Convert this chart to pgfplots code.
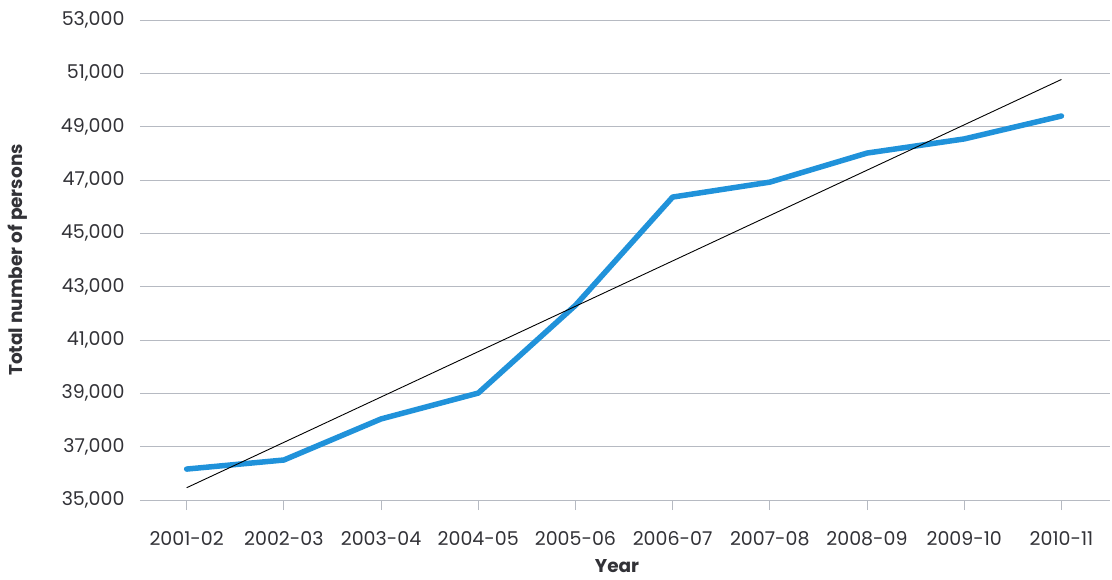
\documentclass[border=0pt]{standalone}
\usepackage{fontspec}
\setmainfont{Poppins}
\usepackage{pgfplots}
\pgfplotsset{compat=1.18}
\definecolor{lineblue}{RGB}{32,146,218}
\definecolor{txt}{RGB}{50,50,55}
\definecolor{gridc}{RGB}{182,186,194}
\begin{document}
\begin{tikzpicture}
\begin{axis}[
  scale only axis,
  width=970pt, height=480pt,
  xmin=-0.48, xmax=9.5,
  ymin=35000, ymax=53000,
  ytick={35000,37000,...,53000},
  xtick={0,...,9},
  xticklabels={2001-02,2002-03,2003-04,2004-05,2005-06,2006-07,2007-08,2008-09,2009-10,2010-11},
  axis line style={draw=none},
  ymajorgrids,
  grid style={gridc, line width=0.8pt},
  tick align=outside,
  tick pos=left,
  major tick length=10pt,
  xtick style={draw=gridc, line width=0.8pt},
  ytick style={draw=none},
  yticklabel style={/pgf/number format/1000 sep={,}, /pgf/number format/assume math mode=true, font=\fontsize{19}{21}\selectfont, text=txt, xshift=-2pt},
  xticklabel style={font=\fontsize{19}{21}\selectfont, text=txt, yshift=-18pt},
  scaled y ticks=false,
  ylabel={\textbf{Total number of persons}},
  xlabel={\textbf{Year}},
  ylabel style={font=\fontsize{18.5}{21}\selectfont, text=txt, at={(rel axis cs:0,0.5)}, anchor=center, yshift=122pt},
  xlabel style={font=\fontsize{18.5}{21}\selectfont, text=txt, at={(rel axis cs:0.5,0)}, anchor=center, yshift=-66pt, xshift=-8pt},
  clip=false,
]
\addplot[lineblue, line width=5.5pt, line join=round, line cap=round] coordinates {
 (0,36160) (1,36500) (2,38040) (3,39010) (4,42300) (5,46360) (6,46920) (7,48010) (8,48540) (9,49400)};
\addplot[black, line width=0.9pt] coordinates {(0,35460) (9,50770)};
\end{axis}
\path (current axis.south west) ++(-140pt,-79pt) coordinate (bbA);
\path (current axis.north east) ++(2pt,20pt) coordinate (bbB);
\pgfresetboundingbox
\path[use as bounding box] (bbA) rectangle (bbB);
\end{tikzpicture}
\end{document}
